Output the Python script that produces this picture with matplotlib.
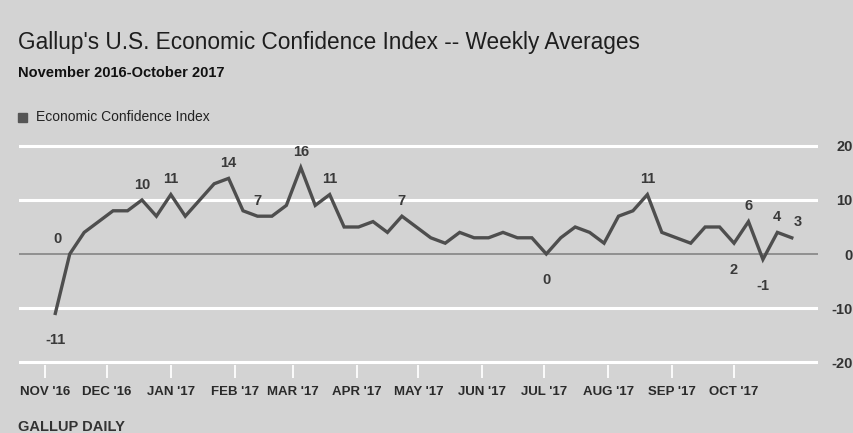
import matplotlib
matplotlib.use('Agg')
import matplotlib.pyplot as plt
import matplotlib.dates as mdates
import datetime as dt

# weekly averages, first week ending Nov 6 2016
start = dt.date(2016, 11, 6)
values = [-11, 0, 4, 6, 8, 8, 10, 7, 11, 7, 10, 13, 14, 8, 7, 7, 9, 16, 9, 11,
          5, 5, 6, 4, 7, 5, 3, 2, 4, 3, 3, 4, 3, 3, 0, 3, 5, 4, 2, 7,
          8, 11, 4, 3, 2, 5, 5, 2, 6, -1, 4, 3]
weeks = [start + dt.timedelta(weeks=i) for i in range(len(values))]

month_ticks = [dt.date(2016, 11, 1), dt.date(2016, 12, 1)] + \
              [dt.date(2017, m, 1) for m in range(1, 11)]
month_labels = ["NOV '16", "DEC '16", "JAN '17", "FEB '17", "MAR '17", "APR '17",
                "MAY '17", "JUN '17", "JUL '17", "AUG '17", "SEP '17", "OCT '17"]
y_ticks = [20, 10, 0, -10, -20]

# which points get a value label: index -> (dx, dy) offset in points
labelled = {0: (0, -14), 1: (-9, 6), 6: (0, 6), 8: (0, 6), 12: (0, 6), 14: (0, 6),
            17: (0, 6), 19: (0, 6), 24: (0, 6), 34: (0, -14), 41: (0, 6),
            47: (0, -14), 48: (0, 6), 49: (0, -14), 50: (0, 6), 51: (4, 6)}

bg = '#d3d3d3'
plt.rcParams['font.family'] = ['Liberation Sans Narrow', 'Liberation Sans', 'DejaVu Sans']

fig = plt.figure(figsize=(8.54, 4.33), dpi=100, facecolor=bg)
ax = fig.add_axes([19/854, (433-365)/433, (818-19)/854, (365-143)/433])
ax.set_facecolor(bg)

ax.set_ylim(-20.55, 20.55)
x0 = mdates.date2num(dt.date(2016, 11, 1)) - 12.6
x1 = mdates.date2num(dt.date(2017, 10, 1)) + 40.7
ax.set_xlim(x0, x1)

for v in y_ticks:
    if v == 0:
        ax.axhline(v, color='#8a8a8a', lw=1.3, zorder=1)
    else:
        ax.axhline(v, color='white', lw=2.2, zorder=1)

ax.plot(weeks, values, color='#4e4e4e', lw=2.4, zorder=3, solid_joinstyle='miter')

for i, (dx, dy) in labelled.items():
    v = values[i]
    ax.annotate(str(v), (mdates.date2num(weeks[i]), v), xytext=(dx, dy),
                textcoords='offset points', ha='center',
                va='bottom' if dy > 0 else 'top', fontsize=10.5,
                fontweight='bold', color='#3a3a3a')

for s in ax.spines.values():
    s.set_visible(False)

ax.set_xticks([mdates.date2num(d) for d in month_ticks])
ax.set_xticklabels(month_labels, fontsize=9.5, fontweight='bold', color='#2a2a2a')
ax.tick_params(axis='x', length=9, width=1.3, color='white', pad=6)

ax.yaxis.tick_right()
ax.set_yticks(y_ticks)
ax.set_yticklabels([str(v) for v in y_ticks], fontsize=10.5, fontweight='bold',
                   color='#333333', ha='right')
ax.tick_params(axis='y', length=0, pad=25)

fig.text(18/854, 1-42/433, "Gallup's U.S. Economic Confidence Index -- Weekly Averages",
         fontsize=16.3, color='#1e1e1e', va='center', ha='left')
fig.text(18/854, 1-73/433, "November 2016-October 2017", fontsize=10.5,
         fontweight='bold', color='#111111', va='center', ha='left')
fig.patches.append(plt.Rectangle((18/854, 1-122/433), 9/854, 9/433,
                                 transform=fig.transFigure, color='#555555'))
fig.text(36/854, 1-117/433, "Economic Confidence Index", fontsize=10,
         color='#222222', va='center', ha='left')
fig.text(18/854, 1-427/433, "GALLUP DAILY", fontsize=10.5, fontweight='bold',
         color='#333333', va='center', ha='left')

fig.savefig('out.png', dpi=100, facecolor=bg)
